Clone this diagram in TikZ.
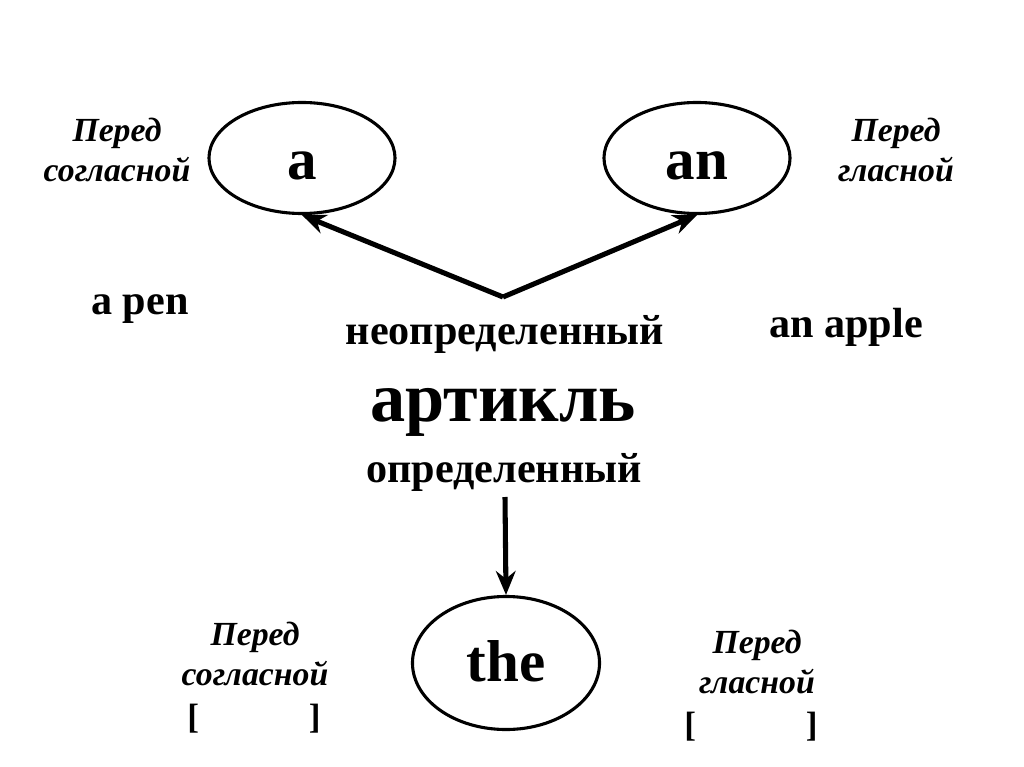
\documentclass[tikz,border=0pt]{standalone}
\usepackage{fontspec}
\setmainfont{Liberation Serif}
\usetikzlibrary{arrows.meta,shapes.geometric}
\begin{document}
\begin{tikzpicture}[x=0.025cm,y=-0.025cm,
  oval/.style={draw, line width=2.2pt, ellipse, inner sep=0pt, text depth=0pt, font=\fontsize{42}{42}\selectfont\bfseries},
  lbl/.style={font=\fontsize{30}{30}\selectfont\bfseries},
  note/.style={font=\fontsize{24}{29}\selectfont\bfseries\itshape, align=center},
  brk/.style={font=\fontsize{25}{25}\selectfont\bfseries},
  conn/.style={line width=3.6pt, -{Stealth[length=17pt,width=14pt]}}]
\useasboundingbox (0,0) rectangle (1024,767);
\node[oval, text height=31pt, minimum width=4.65cm, minimum height=2.775cm] (a) at (302,158) {a};
\node[oval, text height=31pt, minimum width=4.65cm, minimum height=2.775cm] (an) at (697,158) {an};
\node[oval, text height=27pt, minimum width=4.675cm, minimum height=3.325cm] (the) at (506,663) {the};
\node[lbl] (neopr) at (505,334) {неопределенный};
\node[font=\fontsize{50}{50}\selectfont\bfseries] (artikl) at (503,412) {артикль};
\node[lbl] (opr) at (504,472) {определенный};
\node[lbl] (apen) at (140,309) {a pen};
\node[lbl] (anapple) at (846,327) {an apple};
\node[note] (tl) at (117,150) {Перед\\согласной};
\node[note] (tr) at (896,150) {Перед\\гласной};
\node[note] (bl) at (255,654) {Перед\\согласной};
\node[note] (br) at (757,662) {Перед\\гласной};
\node[brk] (blb) at (254,719) {[\hspace{78pt}]};
\node[brk] (brb) at (751,727) {[\hspace{78pt}]};
\coordinate (apex) at (503,297);
\coordinate (dtop) at (505,497);
\draw[conn] (apex) -- (a.south);
\draw[conn] (apex) -- (an.south);
\draw[conn] (dtop) -- (the.north);
\end{tikzpicture}
\end{document}
